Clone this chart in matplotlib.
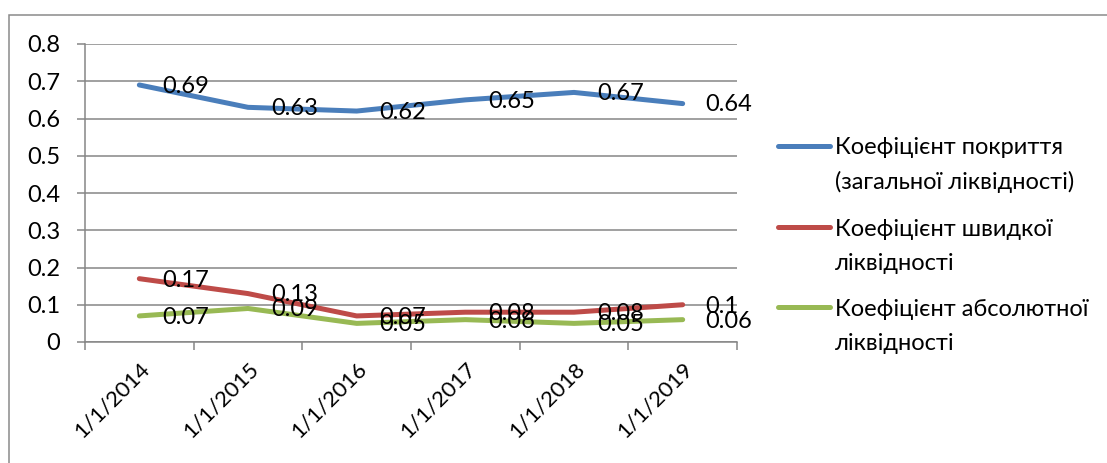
import matplotlib
matplotlib.use("Agg")
import matplotlib.pyplot as plt
from matplotlib.lines import Line2D
from matplotlib.patches import Rectangle

# ---- data ----
categories = ["1/1/2014", "1/1/2015", "1/1/2016", "1/1/2017", "1/1/2018", "1/1/2019"]
coverage_ratio = [0.69, 0.63, 0.62, 0.65, 0.67, 0.64]
quick_ratio = [0.17, 0.13, 0.07, 0.08, 0.08, 0.10]
absolute_ratio = [0.07, 0.09, 0.05, 0.06, 0.05, 0.06]
series_names = [
    "Коефіцієнт покриття\n(загальної ліквідності)",
    "Коефіцієнт швидкої\nліквідності",
    "Коефіцієнт абсолютної\nліквідності",
]
y_ticks = [0.0, 0.1, 0.2, 0.3, 0.4, 0.5, 0.6, 0.7, 0.8]
y_tick_labels = ["0", "0.1", "0.2", "0.3", "0.4", "0.5", "0.6", "0.7", "0.8"]

# ---- style ----
W, H = 1107, 463
colors = ["#4a7ebb", "#be4b48", "#98b954"]
grid_color = "#868686"
plt.rcParams["font.family"] = ["Lato", "Open Sans", "DejaVu Sans"]
FS_TICK = 16
FS_YTICK = 17
FS_LABEL = 17
FS_LEGEND = 17

fig = plt.figure(figsize=(W / 100, H / 100), dpi=100)
fig.patch.set_facecolor("white")


def fx(px):
    return px / W


def fy(py):
    return 1 - py / H


# chart frame
fig.add_artist(Rectangle((fx(9), fy(520)), fx(1200), 505 / H,
                         transform=fig.transFigure, fill=False,
                         edgecolor="#8a8a8a", lw=1.1))

ax = fig.add_axes([fx(85), fy(342), fx(737 - 85), (342 - 44) / H])
ax.set_facecolor("none")

x = list(range(len(categories)))
all_series = [coverage_ratio, quick_ratio, absolute_ratio]
for vals, col in zip(all_series, colors):
    ax.plot(x, vals, color=col, lw=3.6, solid_capstyle="round",
            solid_joinstyle="round", zorder=3)
    for xi, v in zip(x, vals):
        ax.annotate(f"{v:g}", (xi, v), xytext=(16.5, -1),
                    textcoords="offset points", ha="left", va="center",
                    fontsize=FS_LABEL, color="black", zorder=4)

ax.set_xlim(-0.5, len(categories) - 0.5)
ax.set_ylim(0, 0.8)

ax.set_yticks(y_ticks)
ax.set_yticklabels(y_tick_labels, fontsize=FS_YTICK)
ax.tick_params(axis="y", length=6, width=1.1, color=grid_color, pad=12)

ax.set_xticks([i - 0.5 for i in range(len(categories) + 1)])
ax.set_xticklabels([])
ax.tick_params(axis="x", which="major", length=6, width=1.1, color=grid_color)
ax.set_xticks(x, minor=True)
ax.set_xticklabels(categories, minor=True, rotation=45, ha="right",
                   va="top", rotation_mode="anchor", fontsize=FS_TICK)
ax.tick_params(axis="x", which="minor", length=0, pad=12)

ax.grid(axis="y", color=grid_color, lw=1.1)
ax.set_axisbelow(True)
for s in ("top", "right"):
    ax.spines[s].set_visible(False)
for s in ("left", "bottom"):
    ax.spines[s].set_color(grid_color)
    ax.spines[s].set_linewidth(1.1)

# ---- legend ----
legend_rows = [146, 227, 307]
for name, col, yrow in zip(series_names, colors, legend_rows):
    fig.add_artist(Line2D([fx(778), fx(830)], [fy(yrow), fy(yrow)],
                          transform=fig.transFigure, color=col, lw=3.6,
                          solid_capstyle="round"))
    for k, line in enumerate(name.split("\n")):
        fig.text(fx(835), fy(yrow + 2 + 34 * k), line, fontsize=FS_LEGEND,
                 ha="left", va="center", color="black")

fig.savefig("out.png", dpi=100, facecolor="white")
